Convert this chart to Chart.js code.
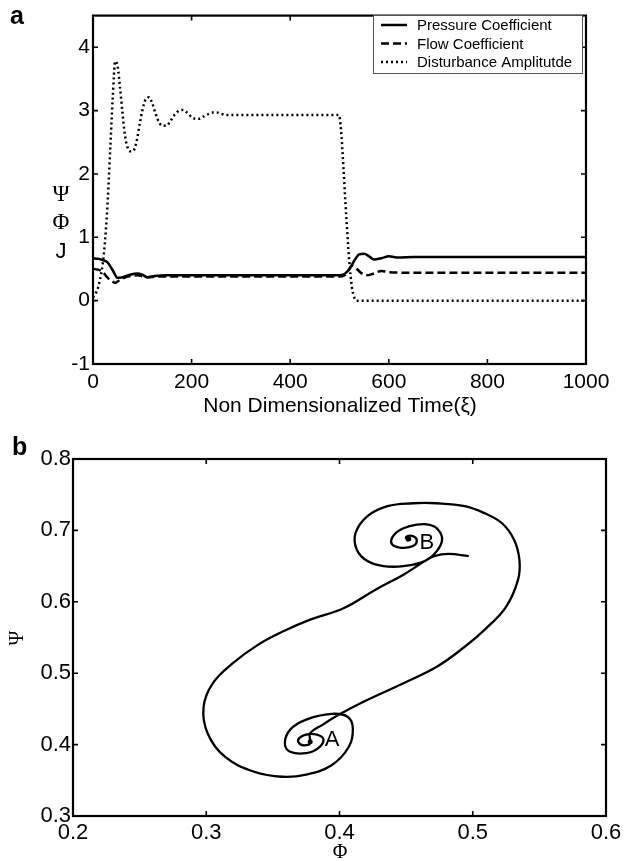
<!DOCTYPE html>
<html>
<head>
<meta charset="utf-8">
<script src="https://cdn.jsdelivr.net/npm/chart.js@4.4.0/dist/chart.umd.min.js"></script>
<style>
    html, body { margin: 0; padding: 0; background: #fff; overflow: hidden; }
    #wrapA { position: absolute; left: 0; top: 0; width: 634px; height: 420px; }
    #wrapB { position: absolute; left: 0; top: 420px; width: 634px; height: 441px; }
</style>
</head>
<body>
<div id="wrapA"><canvas id="chartA" width="634" height="420"></canvas></div>
<div id="wrapB"><canvas id="chartB" width="634" height="441"></canvas></div>
<script>
// --- Panel a: time histories ---
const timeTicks = [0, 200, 400, 600, 800, 1000];
const valueTicks = [-1, 0, 1, 2, 3, 4];

const pressureTime = [0, 10, 20, 30, 40, 50, 60, 75, 90, 100, 110, 125, 150, 200, 300, 400, 500, 510, 520, 530, 540, 550, 560, 570, 585, 600, 620, 650, 700, 1000];
const pressureCoef = [0.67, 0.66, 0.64, 0.60, 0.48, 0.36, 0.37, 0.41, 0.43, 0.41, 0.37, 0.39, 0.40, 0.40, 0.40, 0.40, 0.40, 0.42, 0.50, 0.63, 0.73, 0.74, 0.70, 0.65, 0.67, 0.70, 0.68, 0.69, 0.69, 0.69];

const flowTime = [0, 10, 20, 30, 40, 45, 55, 70, 90, 110, 130, 160, 200, 300, 400, 500, 510, 520, 525, 535, 545, 555, 570, 585, 600, 650, 1000];
const flowCoef = [0.50, 0.49, 0.45, 0.36, 0.30, 0.28, 0.33, 0.38, 0.40, 0.37, 0.38, 0.38, 0.38, 0.38, 0.38, 0.38, 0.40, 0.50, 0.55, 0.50, 0.43, 0.40, 0.43, 0.47, 0.45, 0.44, 0.44];

const distTime = [0, 10, 20, 25, 30, 35, 40, 45, 50, 55, 60, 65, 70, 75, 81, 88, 95, 100, 107, 114, 120, 127, 135, 142, 149, 156, 165, 175, 183, 192, 200, 208, 216, 225, 235, 243, 251, 260, 270, 300, 400, 499, 503, 508, 512, 516, 520, 525, 530, 535, 600, 700, 800, 1000];
const distAmp = [0.05, 0.2, 0.6, 1.0, 1.6, 2.4, 3.2, 3.78, 3.7, 3.35, 2.95, 2.6, 2.42, 2.36, 2.36, 2.5, 2.8, 3.0, 3.18, 3.21, 3.12, 2.95, 2.8, 2.76, 2.76, 2.82, 2.93, 3.0, 3.01, 2.96, 2.9, 2.87, 2.87, 2.91, 2.95, 2.97, 2.97, 2.95, 2.93, 2.93, 2.93, 2.93, 2.7, 2.1, 1.55, 1.05, 0.6, 0.22, 0.05, 0.0, 0.0, 0.0, 0.0, 0.0];

// --- Panel b: phase portrait ---
const phiTicks = [0.2, 0.3, 0.4, 0.5, 0.6];
const psiTicks = [0.3, 0.4, 0.5, 0.6, 0.7, 0.8];

const phiTraj = [0.497, 0.482, 0.471, 0.464, 0.448, 0.427, 0.403, 0.378, 0.357, 0.339, 0.320, 0.305, 0.298, 0.301, 0.314, 0.336, 0.357, 0.375, 0.394, 0.407, 0.410, 0.406, 0.394, 0.375, 0.363, 0.359, 0.363, 0.375, 0.384, 0.388, 0.383, 0.375, 0.369, 0.371, 0.377, 0.378,
    0.378, 0.3875, 0.3997, 0.418, 0.448, 0.473, 0.494, 0.509, 0.525, 0.534, 0.535, 0.531, 0.522, 0.509, 0.494, 0.473, 0.455, 0.436, 0.421, 0.412, 0.413, 0.421, 0.433, 0.448, 0.464, 0.473, 0.477, 0.474, 0.467, 0.458, 0.448, 0.441, 0.439, 0.445, 0.455, 0.458, 0.455, 0.450, 0.451, 0.452];
const psiTraj = [0.664, 0.667, 0.664, 0.657, 0.638, 0.617, 0.591, 0.575, 0.558, 0.540, 0.514, 0.486, 0.453, 0.416, 0.383, 0.362, 0.355, 0.358, 0.371, 0.397, 0.423, 0.439, 0.443, 0.435, 0.421, 0.402, 0.390, 0.388, 0.395, 0.407, 0.414, 0.414, 0.407, 0.400, 0.400, 0.404,
    0.416, 0.428, 0.442, 0.460, 0.486, 0.509, 0.537, 0.561, 0.593, 0.631, 0.659, 0.687, 0.710, 0.724, 0.734, 0.738, 0.738, 0.734, 0.720, 0.696, 0.673, 0.657, 0.650, 0.650, 0.657, 0.671, 0.687, 0.701, 0.708, 0.708, 0.703, 0.694, 0.682, 0.676, 0.678, 0.686, 0.692, 0.691, 0.686, 0.688];

const pointNames = ['A', 'B'];
const pointPhi = [0.378, 0.452];
const pointPsi = [0.404, 0.688];
const pointLabelPhi = [0.389, 0.460];
const pointLabelPsi = [0.406, 0.682];

const SANS = '"Liberation Sans", Arial, sans-serif';
const SERIF = '"Liberation Serif", "Times New Roman", serif';

// frame with inward ticks on all four sides (MATLAB look)
const framePlugin = {
    id: 'frame',
    afterDatasetsDraw(chart) {
        const { ctx, chartArea: a, scales } = chart;
        ctx.save();
        ctx.strokeStyle = '#000';
        ctx.lineWidth = 1.6;
        ctx.beginPath();
        scales.x.ticks.forEach(t => {
            const px = scales.x.getPixelForValue(t.value);
            ctx.moveTo(px, a.bottom); ctx.lineTo(px, a.bottom - 5);
            ctx.moveTo(px, a.top); ctx.lineTo(px, a.top + 5);
        });
        scales.y.ticks.forEach(t => {
            const py = scales.y.getPixelForValue(t.value);
            ctx.moveTo(a.left, py); ctx.lineTo(a.left + 5, py);
            ctx.moveTo(a.right, py); ctx.lineTo(a.right - 5, py);
        });
        ctx.stroke();
        ctx.lineWidth = 2.2;
        ctx.strokeRect(a.left, a.top, a.right - a.left, a.bottom - a.top);
        ctx.restore();
    }
};

// free texts: panel letters, axis titles
const notesPlugin = {
    id: 'notes',
    afterDraw(chart, args, opts) {
        const ctx = chart.ctx;
        ctx.save();
        ctx.fillStyle = '#000';
        (opts.items || []).forEach(it => {
            ctx.font = it.font;
            ctx.textAlign = it.align || 'center';
            ctx.textBaseline = 'middle';
            ctx.save();
            ctx.translate(it.x, it.y);
            if (it.rot) ctx.rotate(it.rot);
            ctx.fillText(it.text, 0, 0);
            ctx.restore();
        });
        // labels tied to data points
        if (opts.pointLabels) {
            const { x, y } = chart.scales;
            ctx.font = opts.pointFont;
            ctx.textAlign = 'left';
            opts.pointLabels.forEach(p => {
                ctx.fillText(p.text, x.getPixelForValue(p.x), y.getPixelForValue(p.y));
            });
        }
        ctx.restore();
    }
};

// boxed legend in the upper right of panel a
const boxLegendPlugin = {
    id: 'boxLegend',
    afterDraw(chart, args, opts) {
        if (!opts.display) return;
        const ctx = chart.ctx;
        ctx.save();
        ctx.fillStyle = '#fff';
        ctx.fillRect(opts.x, opts.y, opts.w, opts.h);
        ctx.strokeStyle = '#555';
        ctx.lineWidth = 1;
        ctx.strokeRect(opts.x + 0.5, opts.y + 0.5, opts.w, opts.h);
        ctx.font = '15px ' + SANS;
        ctx.textAlign = 'left';
        ctx.textBaseline = 'middle';
        chart.data.datasets.forEach((ds, i) => {
            const ry = opts.y + 10 + i * 18.5;
            ctx.strokeStyle = '#000';
            ctx.lineWidth = ds.borderWidth;
            ctx.setLineDash(ds.borderDash || []);
            ctx.beginPath();
            ctx.moveTo(opts.x + 8, ry);
            ctx.lineTo(opts.x + 34, ry);
            ctx.stroke();
            ctx.setLineDash([]);
            ctx.fillStyle = '#000';
            ctx.fillText(ds.label, opts.x + 44, ry + 1);
        });
        ctx.restore();
    }
};

const tickFontA = { family: SANS, size: 21 };
const tickFontB = { family: SANS, size: 22 };

new Chart(document.getElementById('chartA'), {
    type: 'line',
    data: {
        datasets: [
            {
                label: 'Pressure Coefficient',
                data: pressureTime.map((t, i) => ({ x: t, y: pressureCoef[i] })),
                borderColor: '#000', borderWidth: 2.5, pointRadius: 0,
                cubicInterpolationMode: 'monotone'
            },
            {
                label: 'Flow Coefficient',
                data: flowTime.map((t, i) => ({ x: t, y: flowCoef[i] })),
                borderColor: '#000', borderWidth: 2.5, borderDash: [8, 4], pointRadius: 0,
                cubicInterpolationMode: 'monotone'
            },
            {
                label: 'Disturbance Amplitutde',
                data: distTime.map((t, i) => ({ x: t, y: distAmp[i] })),
                borderColor: '#000', borderWidth: 2.5, borderDash: [2, 3], pointRadius: 0,
                cubicInterpolationMode: 'monotone'
            }
        ]
    },
    options: {
        responsive: false,
        animation: false,
        layout: { padding: { left: 0, top: 12, right: 48, bottom: 0 } },
        plugins: {
            legend: { display: false },
            tooltip: { enabled: false },
            boxLegend: { display: true, x: 373, y: 15, w: 209, h: 58 },
            notes: {
                items: [
                    { text: 'a', x: 10, y: 17, align: 'left', font: 'bold 25px ' + SANS },
                    { text: 'Non Dimensionalized Time(ξ)', x: 340, y: 406, font: '21px ' + SANS },
                    { text: 'Ψ', x: 61, y: 195, font: '23px ' + SERIF },
                    { text: 'Φ', x: 61, y: 223, font: '23px ' + SERIF },
                    { text: 'J', x: 61, y: 252, font: '22px ' + SANS }
                ]
            }
        },
        scales: {
            x: {
                type: 'linear', min: 0, max: 1000,
                grid: { display: false, drawTicks: false },
                border: { display: false },
                afterBuildTicks: s => { s.ticks = timeTicks.map(v => ({ value: v })); },
                afterFit: s => { s.height = 56; },
                ticks: { font: tickFontA, color: '#000', padding: 6, autoSkip: false, maxRotation: 0,
                    callback: v => String(v) }
            },
            y: {
                type: 'linear', min: -1, max: 4.5,
                grid: { display: false, drawTicks: false },
                border: { display: false },
                afterBuildTicks: s => { s.ticks = valueTicks.map(v => ({ value: v })); },
                afterFit: s => { s.width = 93; },
                ticks: { font: tickFontA, color: '#000', padding: 3, autoSkip: false,
                    callback: v => String(v) }
            }
        }
    },
    plugins: [framePlugin, notesPlugin, boxLegendPlugin]
});

new Chart(document.getElementById('chartB'), {
    type: 'scatter',
    data: {
        datasets: [
            {
                label: 'Trajectory',
                data: phiTraj.map((p, i) => ({ x: p, y: psiTraj[i] })),
                showLine: true, borderColor: '#000', borderWidth: 2.3, pointRadius: 0,
                tension: 0.4
            },
            {
                label: 'Equilibria',
                data: pointPhi.map((p, i) => ({ x: p, y: pointPsi[i] })),
                showLine: false, pointRadius: 2.5, pointBackgroundColor: '#000', borderWidth: 0
            }
        ]
    },
    options: {
        responsive: false,
        animation: false,
        layout: { padding: { left: 0, top: 39, right: 28, bottom: 0 } },
        plugins: {
            legend: { display: false },
            tooltip: { enabled: false },
            notes: {
                items: [
                    { text: 'b', x: 12, y: 28, align: 'left', font: 'bold 25px ' + SANS },
                    { text: 'Φ', x: 340, y: 433, font: '20px ' + SERIF },
                    { text: 'Ψ', x: 18, y: 218, rot: -Math.PI / 2, font: '20px ' + SERIF }
                ],
                pointFont: '22px ' + SANS,
                pointLabels: pointNames.map((n, i) => ({ text: n, x: pointLabelPhi[i], y: pointLabelPsi[i] }))
            }
        },
        scales: {
            x: {
                type: 'linear', min: 0.2, max: 0.6,
                grid: { display: false, drawTicks: false },
                border: { display: false },
                afterBuildTicks: s => { s.ticks = phiTicks.map(v => ({ value: v })); },
                afterFit: s => { s.height = 45; },
                ticks: { font: tickFontB, color: '#000', padding: 4, autoSkip: false, maxRotation: 0,
                    callback: v => v.toFixed(1) }
            },
            y: {
                type: 'linear', min: 0.3, max: 0.8,
                grid: { display: false, drawTicks: false },
                border: { display: false },
                afterBuildTicks: s => { s.ticks = psiTicks.map(v => ({ value: v })); },
                afterFit: s => { s.width = 73; },
                ticks: { font: tickFontB, color: '#000', padding: 2, autoSkip: false,
                    callback: v => v.toFixed(1) }
            }
        }
    },
    plugins: [framePlugin, notesPlugin]
});
</script>
</body>
</html>
